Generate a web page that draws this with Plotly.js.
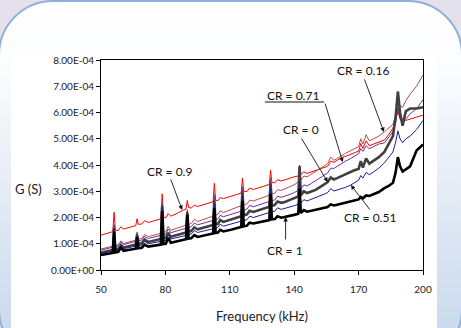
<!DOCTYPE html>
<html><head><meta charset="utf-8">
<script src="https://cdn.plot.ly/plotly-3.0.1.min.js"></script>
<style>
html,body{margin:0;padding:0;width:461px;height:328px;overflow:hidden;background:#e4e1ed;}
#panel{position:absolute;left:-2px;top:0px;width:461px;height:360px;border:2px solid #8fb0da;border-radius:55px;
background:linear-gradient(to bottom,#ffffff 0%,#fbfcfe 18%,#dfe8f4 60%,#c5d6eb 100%);}
#chart{position:absolute;left:11px;top:53px;width:426px;height:275px;background:#fff;}
</style></head>
<body>
<div id="panel"></div>
<div id="chart"></div>
<script>
// Frequency (kHz)
const freq = [50,52,54,55.5,56.1,56.7,58,59.3,60.5,62,64,66.2,66.8,67.4,69,70.3,72,74,76,77.9,78.5,79.1,80.2,81.3,82.5,84,86,88,89.6,90.2,90.8,92,93.5,95,97,99,101,102.2,102.8,103.4,104.5,105.5,107,109,111,113,115.3,115.9,116.5,118,119.2,121,123,125,127,128.4,129,129.6,131,132.2,134,136,138,140,141.9,142.5,143.1,144.5,146,148,150,152,154,155.6,157,158.5,160,162.6,164,166.4,168,170,171,172,173.5,175,177,179.4,182,184,186,187.2,188.3,189.3,190.5,192,194,197,200];
// G values in units of 1e-4 S
const g_cr09 = [1.33,1.37,1.42,1.46,2.2,1.52,1.50,1.65,1.56,1.59,1.63,1.69,1.95,1.74,1.75,1.88,1.81,1.85,1.90,1.95,2.9,2.02,1.99,2.15,2.05,2.10,2.18,2.27,2.32,2.65,2.38,2.36,2.47,2.42,2.47,2.52,2.57,2.60,3.3,2.66,2.64,2.76,2.72,2.78,2.82,2.87,2.93,3.5,3.0,2.99,3.12,3.07,3.12,3.17,3.22,3.26,3.8,3.33,3.32,3.44,3.39,3.45,3.49,3.55,3.58,4.0,3.65,3.74,3.68,3.74,3.8,3.85,3.9,3.95,4.15,4.1,4.18,4.3,4.33,4.4,4.46,4.53,4.82,4.63,4.92,4.73,4.8,4.88,4.95,5.15,5.4,5.7,6.05,5.75,5.6,5.7,5.75,5.82,5.9];
const g_cr016 = [0.80,0.84,0.88,0.91,1.75,0.93,0.96,1.11,1.01,1.04,1.09,1.14,1.45,1.17,1.20,1.35,1.27,1.31,1.36,1.40,2.6,1.43,1.46,1.66,1.51,1.55,1.61,1.66,1.71,2.3,1.74,1.77,1.93,1.85,1.90,1.95,2.01,2.05,2.9,2.09,2.12,2.26,2.19,2.25,2.31,2.38,2.45,3.2,2.48,2.52,2.66,2.63,2.69,2.75,2.81,2.85,3.5,2.89,2.93,3.06,3.03,3.1,3.17,3.25,3.35,3.8,3.42,3.58,3.55,3.65,3.75,3.86,3.96,4.05,4.3,4.18,4.25,4.4,4.45,4.55,4.62,4.7,5.0,4.8,5.15,4.92,5.0,5.1,5.26,5.4,5.55,5.85,6.5,6.25,6.2,6.45,6.7,7.0,7.43];
const g_cr071 = [0.76,0.80,0.84,0.87,1.7,0.89,0.92,1.06,0.97,1.0,1.04,1.09,1.4,1.11,1.14,1.28,1.20,1.24,1.28,1.32,2.55,1.35,1.37,1.56,1.42,1.46,1.51,1.55,1.59,2.25,1.62,1.65,1.79,1.72,1.77,1.82,1.86,1.89,2.8,1.92,1.95,2.08,2.03,2.08,2.13,2.18,2.24,3.1,2.27,2.32,2.46,2.41,2.46,2.52,2.57,2.61,3.4,2.64,2.67,2.81,2.77,2.82,2.88,2.95,3.03,3.7,3.08,3.24,3.2,3.3,3.4,3.5,3.6,3.7,3.88,3.87,3.95,4.1,4.15,4.25,4.33,4.43,4.62,4.52,4.73,4.62,4.7,4.8,4.84,5.05,5.27,5.6,6.2,5.8,5.65,5.75,5.95,6.15,6.48];
const g_cr0 = [0.66,0.70,0.73,0.76,1.6,0.78,0.81,0.95,0.86,0.89,0.93,0.97,1.35,1.0,1.02,1.16,1.07,1.11,1.14,1.18,2.45,1.21,1.22,1.42,1.27,1.3,1.35,1.39,1.43,2.2,1.46,1.48,1.62,1.55,1.59,1.64,1.68,1.71,2.65,1.74,1.76,1.9,1.83,1.88,1.93,1.99,2.05,3.0,2.08,2.12,2.26,2.21,2.26,2.32,2.37,2.41,3.3,2.44,2.48,2.61,2.56,2.6,2.67,2.75,2.8,3.95,2.84,3.0,2.93,2.99,3.05,3.16,3.26,3.35,3.52,3.45,3.5,3.6,3.66,3.75,3.8,3.85,4.15,3.9,4.25,4.05,4.16,4.3,4.5,4.8,5.1,5.8,6.8,6.0,5.5,6.05,6.15,6.15,6.2];
const g_cr051 = [0.63,0.66,0.70,0.72,1.55,0.74,0.77,0.9,0.81,0.84,0.87,0.91,1.3,0.93,0.95,1.09,1.0,1.03,1.06,1.09,2.35,1.12,1.13,1.33,1.18,1.21,1.25,1.29,1.32,2.15,1.35,1.37,1.5,1.43,1.47,1.51,1.55,1.57,2.5,1.6,1.62,1.74,1.67,1.71,1.75,1.8,1.86,2.8,1.88,1.92,2.05,2.0,2.05,2.1,2.15,2.19,3.1,2.22,2.24,2.37,2.31,2.35,2.4,2.45,2.5,3.4,2.54,2.68,2.63,2.69,2.75,2.82,2.89,2.95,3.1,3.01,3.05,3.1,3.15,3.24,3.32,3.42,3.6,3.5,3.72,3.63,3.74,3.88,4.08,4.3,4.5,4.85,5.3,5.0,4.85,5.0,5.1,5.35,5.7];
const g_cr1 = [0.57,0.6,0.63,0.65,1.45,0.67,0.69,0.85,0.73,0.75,0.78,0.81,1.25,0.83,0.85,0.97,0.89,0.92,0.94,0.97,2.25,0.99,1.0,1.22,1.04,1.07,1.11,1.14,1.17,2.1,1.2,1.21,1.33,1.26,1.29,1.33,1.37,1.39,2.35,1.41,1.43,1.53,1.47,1.5,1.54,1.59,1.64,2.65,1.66,1.69,1.8,1.77,1.8,1.84,1.87,1.9,2.9,1.93,1.94,2.05,1.99,2.02,2.06,2.1,2.14,3.1,2.17,2.28,2.22,2.26,2.3,2.34,2.37,2.4,2.5,2.46,2.49,2.55,2.57,2.62,2.65,2.69,2.78,2.73,2.84,2.82,2.9,2.97,3.12,3.2,3.32,3.7,4.3,3.95,3.75,3.85,3.95,4.55,4.78];

const yTickVals = [0,1e-4,2e-4,3e-4,4e-4,5e-4,6e-4,7e-4,8e-4];
const yTickText = ['0.00E+00','1.00E-04','2.00E-04','3.00E-04','4.00E-04','5.00E-04','6.00E-04','7.00E-04','8.00E-04'];
const xTickVals = [50,80,110,140,170,200];

const series = [
  {name:'CR = 0.9', g:g_cr09, color:'#ff0000', w:1},
  {name:'CR = 0.16', g:g_cr016, color:'#b0504e', w:1},
  {name:'CR = 0.71', g:g_cr071, color:'#7030a0', w:1},
  {name:'CR = 0', g:g_cr0, color:'#404040', w:2.6},
  {name:'CR = 0.51', g:g_cr051, color:'#1c1c96', w:1},
  {name:'CR = 1', g:g_cr1, color:'#000000', w:2.6}
];
const traces = series.map(s => ({
  x: freq, y: s.g.map(v => v*1e-4), type:'scatter', mode:'lines', name:s.name,
  line:{color:s.color, width:s.w}
}));

const F = 'Lato, "Open Sans", sans-serif';
function lbl(text, x, y){ return {text:text, xref:'paper', yref:'paper', x:x, y:y, showarrow:false, font:{family:F,size:12,color:'#111'}, xanchor:'center', yanchor:'middle'}; }
function arr(x, y, ax, ay){ return {text:'', x:x, y:y, xref:'x', yref:'y', showarrow:true, ax:ax, ay:ay, arrowhead:2, arrowsize:1, arrowwidth:0.9, arrowcolor:'#111'}; }

const layout = {
  width:426, height:275,
  margin:{l:90, r:14, t:7, b:58},
  paper_bgcolor:'#ffffff', plot_bgcolor:'#ffffff',
  showlegend:false,
  font:{family:F, size:10, color:'#222'},
  xaxis:{range:[50,200], tickvals:xTickVals, ticks:'outside', ticklen:4, tickcolor:'#000',
    showline:true, linecolor:'#000', linewidth:1, mirror:true, showgrid:false, zeroline:false,
    ticklabelstandoff:6, tickfont:{family:F,size:10,color:'#222'},
    title:{text:'Frequency (kHz)', font:{family:F,size:13,color:'#222'}, standoff:17}},
  yaxis:{range:[0,8e-4], tickvals:yTickVals, ticktext:yTickText, ticks:'outside', ticklen:4, tickcolor:'#000',
    showline:true, linecolor:'#000', linewidth:1, mirror:true, showgrid:false, zeroline:false,
    tickfont:{family:F,size:10,color:'#222'}},
  shapes:[{type:'line', xref:'paper', yref:'paper', x0:0.509, x1:0.693, y0:0.8, y1:0.8, line:{color:'#111', width:1}}],
  annotations:[
    {text:'G (S)', xref:'paper', yref:'paper', x:-0.225, y:0.385, showarrow:false, font:{family:F,size:13,color:'#222'}, xanchor:'center', yanchor:'middle'},
    lbl('CR = 0.9', 0.214, 0.467),
    lbl('CR = 0.71', 0.596, 0.833),
    lbl('CR = 0', 0.621, 0.667),
    lbl('CR = 0.16', 0.814, 0.952),
    lbl('CR = 0.51', 0.835, 0.248),
    lbl('CR = 1', 0.571, 0.095),
    arr(87.8, 2.29e-4, -12, -32),
    arr(162.6, 4.11e-4, -18, -60),
    arr(155.6, 3.35e-4, -27, -45),
    arr(181.8, 5.26e-4, -20, -54),
    arr(166.4, 3.24e-4, 20, 26),
    arr(136, 2.02e-4, 0, 24)
  ]
};
Plotly.newPlot('chart', traces, layout, {displayModeBar:false, staticPlot:true});
</script>
</body></html>
